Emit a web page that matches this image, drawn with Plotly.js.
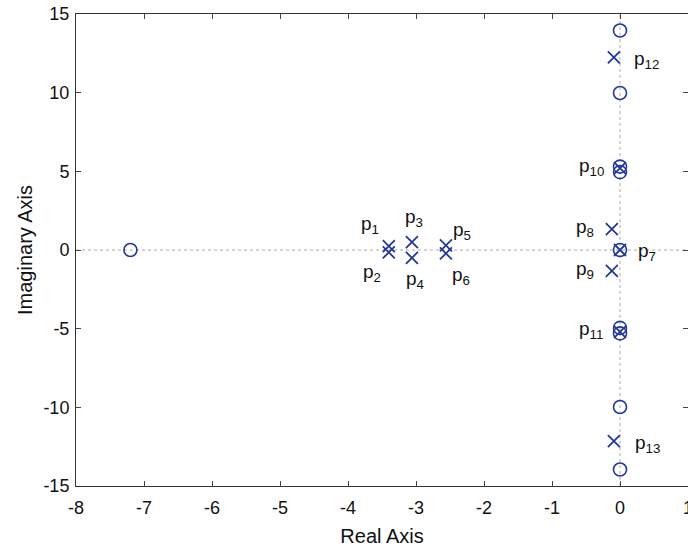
<!DOCTYPE html>
<html>
<head>
<meta charset="utf-8">
<script src="https://cdn.plot.ly/plotly-3.0.1.min.js"></script>
<style>html,body{margin:0;padding:0;background:#fff}#chart{width:688px;height:551px}</style>
</head>
<body>
<div id="chart"></div>
<script>
// Poles (x marks)
const poleRe = [-3.40, -3.40, -3.06, -3.06, -2.56, -2.56, 0.0, -0.12, -0.12, 0.0, 0.0, -0.09, -0.09];
const poleIm = [0.25, -0.15, 0.5, -0.5, 0.3, -0.22, 0.0, 1.33, -1.33, 5.2, -5.2, 12.25, -12.15];
const poleNames = ['1','2','3','4','5','6','7','8','9','10','11','12','13'];
// Zeros (o marks)
const zeroRe = [-7.2, 0, 0, 0, 0, 0, 0, 0, 0, 0];
const zeroIm = [0, 13.95, 9.98, 5.3, 4.95, 0, -4.95, -5.3, -9.98, -13.95];
// label placement (data units)
const labelX = [-3.68, -3.65, -3.03, -3.01, -2.32, -2.34, 0.39, -0.51, -0.51, -0.42, -0.42, 0.39, 0.4];
const labelY = [1.59, -1.46, 2.03, -1.91, 1.21, -1.65, -0.13, 1.4, -1.27, 5.28, -5.09, 12.08, -12.33];
const xTicks = [-8, -7, -6, -5, -4, -3, -2, -1, 0, 1];
const yTicks = [-15, -10, -5, 0, 5, 10, 15];

const blue = '#23389a';
const fam = 'Liberation Sans, Arial, sans-serif';
const traces = [
  {x: zeroRe, y: zeroIm, mode: 'markers', type: 'scatter',
   marker: {symbol: 'circle-open', size: 13, color: blue, line: {width: 1.6, color: blue}}, hoverinfo: 'x+y'},
  {x: poleRe, y: poleIm, mode: 'markers', type: 'scatter',
   marker: {symbol: 'x-thin-open', size: 12, color: blue, line: {width: 1.8, color: blue}}, hoverinfo: 'x+y'}
];
const annotations = poleNames.map((n, i) => ({
  x: labelX[i], y: labelY[i], xref: 'x', yref: 'y', text: 'p<sub>' + n + '</sub>',
  showarrow: false, font: {family: fam, size: 19, color: '#111'}
}));
const layout = {
  width: 688, height: 551,
  margin: {l: 76, r: 0, t: 14, b: 65},
  paper_bgcolor: '#fff', plot_bgcolor: '#fff',
  showlegend: false,
  font: {family: fam, size: 18, color: '#111'},
  xaxis: {range: [-8, 1], tickvals: xTicks, ticktext: xTicks.map(String), ticks: 'inside', ticklen: 5,
    tickcolor: '#444', showline: true, linecolor: '#333', linewidth: 1, mirror: 'ticks',
    ticklabelstandoff: 5, ticklabeloverflow: 'allow',
    showgrid: false, zeroline: false, title: {text: 'Real Axis', font: {size: 20}, standoff: 12}},
  yaxis: {range: [-15, 15], tickvals: yTicks, ticktext: yTicks.map(String), ticks: 'inside', ticklen: 5,
    tickcolor: '#444', showline: true, linecolor: '#333', linewidth: 1, mirror: 'ticks',
    ticklabelstandoff: 2,
    showgrid: false, zeroline: false, title: {text: 'Imaginary Axis', font: {size: 20}, standoff: 5}},
  shapes: [
    {type: 'line', xref: 'paper', yref: 'y', x0: 0, x1: 1, y0: 0, y1: 0, layer: 'below',
     line: {color: '#aaa', width: 1, dash: 'dot'}},
    {type: 'line', xref: 'x', yref: 'paper', x0: 0, x1: 0, y0: 0, y1: 1, layer: 'below',
     line: {color: '#aaa', width: 1, dash: 'dot'}}
  ],
  annotations: annotations
};
Plotly.newPlot('chart', traces, layout, {displayModeBar: false, staticPlot: true});
</script>
</body>
</html>
